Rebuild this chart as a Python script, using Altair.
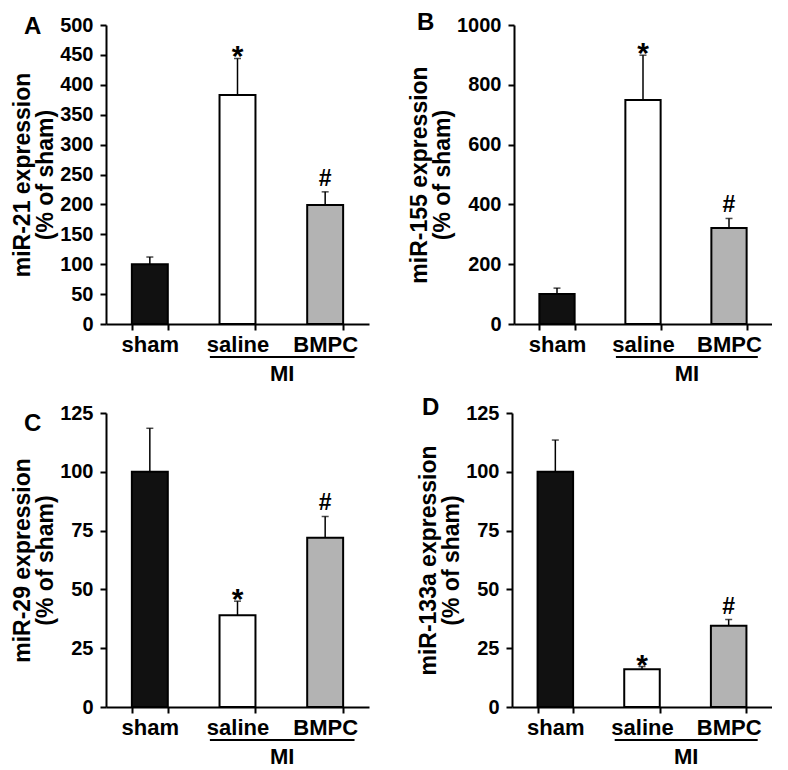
import altair as alt
import pandas as pd

categories = ["sham", "saline", "BMPC"]
fills = ["#111111", "#ffffff", "#b3b3b3"]
sig_marks = ["", "*", "#"]

letters = ["A", "B", "C", "D"]
ytitles = [
    ["miR-21 expression", "(% of sham)"],
    ["miR-155 expression", "(% of sham)"],
    ["miR-29 expression", "(% of sham)"],
    ["miR-133a expression", "(% of sham)"],
]
means_A = [100, 383, 199]
errs_A = [12, 61, 22]
means_B = [100, 749, 321]
errs_B = [20, 150, 32]
means_C = [100, 39, 72]
errs_C = [18.5, 6, 9]
means_D = [100, 16, 34.5]
errs_D = [13.5, 1.2, 2.7]
y_max = [500, 1000, 125, 125]
y_step = [50, 200, 25, 25]
group_label = "MI"

FONT = "Liberation Sans"


def panel(letter, ytitle, means, errs, ymax, ystep, w, h, letter_dx, letter_dy):
    df = pd.DataFrame({
        "cat": categories,
        "mean": means,
        "top": [m + e for m, e in zip(means, errs)],
        "fill": fills,
        "mark": sig_marks,
    })
    xaxis = alt.Axis(title=None, labelAngle=0, labelFontSize=22, tickBand="extent",
                     labelPadding=4)
    xscale = alt.Scale(paddingInner=0.59, paddingOuter=0.295)
    yscale = alt.Scale(domain=[0, ymax], nice=False)
    yaxis = alt.Axis(title=ytitle, values=list(range(0, ymax + 1, ystep)),
                     format="d", labelOverlap=False)

    def X():
        return alt.X("cat:N", sort=categories, scale=xscale, axis=xaxis)

    def Y(field):
        return alt.Y(field, scale=yscale, axis=yaxis)

    base = alt.Chart(df)
    bars = base.mark_bar(stroke="black", strokeWidth=2).encode(
        x=X(), y=Y("mean:Q"), fill=alt.Fill("fill:N", scale=None)
    )
    err = base.mark_rule(color="black", strokeWidth=1.5).encode(
        x=X(), y=Y("mean:Q"), y2="top:Q"
    )
    cap = base.mark_tick(color="black", size=7, thickness=1.5).encode(
        x=X(), y=Y("top:Q")
    )
    star = base.transform_filter(alt.datum.mark == "*").mark_text(
        fontSize=30, fontWeight="bold", font=FONT, baseline="alphabetic", dy=8, color="black"
    ).encode(x=X(), y=Y("top:Q"), text="mark:N")
    hashm = base.transform_filter(alt.datum.mark == "#").mark_text(
        fontSize=23, fontWeight="bold", font=FONT, baseline="alphabetic", dy=-6, color="black"
    ).encode(x=X(), y=Y("top:Q"), text="mark:N")

    ann = alt.Chart(pd.DataFrame({"t": [letter], "g": [group_label]}))
    let = ann.mark_text(fontSize=24, fontWeight="bold", font=FONT, align="left",
                        baseline="middle", color="black").encode(
        x=alt.value(letter_dx), y=alt.value(letter_dy), text="t:N")
    x1 = w * 0.395
    x2 = w * 0.945
    line = ann.mark_rule(color="black", strokeWidth=2).encode(
        x=alt.value(x1), x2=alt.value(x2), y=alt.value(h + 33))
    mi = ann.mark_text(fontSize=22, fontWeight="bold", font=FONT, align="center",
                       baseline="middle", color="black").encode(
        x=alt.value((x1 + x2) / 2), y=alt.value(h + 50), text="g:N")

    return alt.layer(bars, err, cap, star, hashm, let, line, mi).properties(width=w, height=h)


pA = panel(letters[0], ytitles[0], means_A, errs_A, y_max[0], y_step[0], 263, 299, -82, 2)
pB = panel(letters[1], ytitles[1], means_B, errs_B, y_max[1], y_step[1], 258, 299, -97, -2)
pC = panel(letters[2], ytitles[2], means_C, errs_C, y_max[2], y_step[2], 263, 294, -82, 11)
pD = panel(letters[3], ytitles[3], means_D, errs_D, y_max[3], y_step[3], 260, 294, -90, -5)

chart = alt.vconcat(
    alt.hconcat(pA, pB, spacing=39),
    alt.hconcat(pC, pD, spacing=48),
    spacing=11,
).properties(
    padding={"left": 3, "top": 3, "right": 0, "bottom": 0}
).configure_view(stroke=None).configure_axis(
    labelFont=FONT, titleFont=FONT, labelFontWeight="bold", titleFontWeight="bold",
    labelColor="black", titleColor="black", domainColor="black", tickColor="black",
    grid=False, domainWidth=2, tickWidth=2, tickSize=6, labelFontSize=20,
    titleFontSize=23, titlePadding=2, labelPadding=7, titleLineHeight=23,
)

chart.save("out.html", embed_options={"renderer": "svg", "actions": False})
